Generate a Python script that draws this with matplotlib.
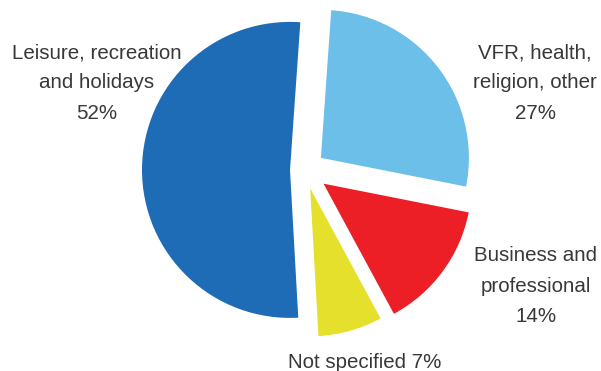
import matplotlib
matplotlib.use("Agg")
import matplotlib.pyplot as plt

# Purpose of visit, share of arrivals
purposes = ["Leisure, recreation\nand holidays", "Not specified",
            "Business and\nprofessional", "VFR, health,\nreligion, other"]
shares = [52, 7, 14, 27]
colors = ["#1e6bb6", "#e4e02b", "#ec1f27", "#6cbfe9"]
offsets = [15, 19, 23, 20]

W, H = 601, 371
fig = plt.figure(figsize=(W / 100, H / 100), dpi=100)
ax = fig.add_axes([0, 0, 1, 1])

ax.pie(shares, colors=colors, explode=offsets, startangle=86,
       counterclock=True, center=(305, H - 170), radius=148,
       wedgeprops=dict(linewidth=0))
ax.set_xlim(0, W)
ax.set_ylim(0, H)
ax.set_aspect("equal")
ax.axis("off")

txt = dict(fontsize=14.8, color="#383838", ha="center", va="center",
           multialignment="center", family=["Liberation Sans", "DejaVu Sans"],
           linespacing=1.75)

ax.text(97, H - 83, f"{purposes[0]}\n{shares[0]}%", **txt)
ax.text(535, H - 83, f"{purposes[3]}\n{shares[3]}%", **txt)
ax.text(536, H - 286, f"{purposes[2]}\n{shares[2]}%", **txt)
ax.text(365, H - 362, f"{purposes[1]} {shares[1]}%", **txt)

fig.savefig("out.png", dpi=100, facecolor="white")
